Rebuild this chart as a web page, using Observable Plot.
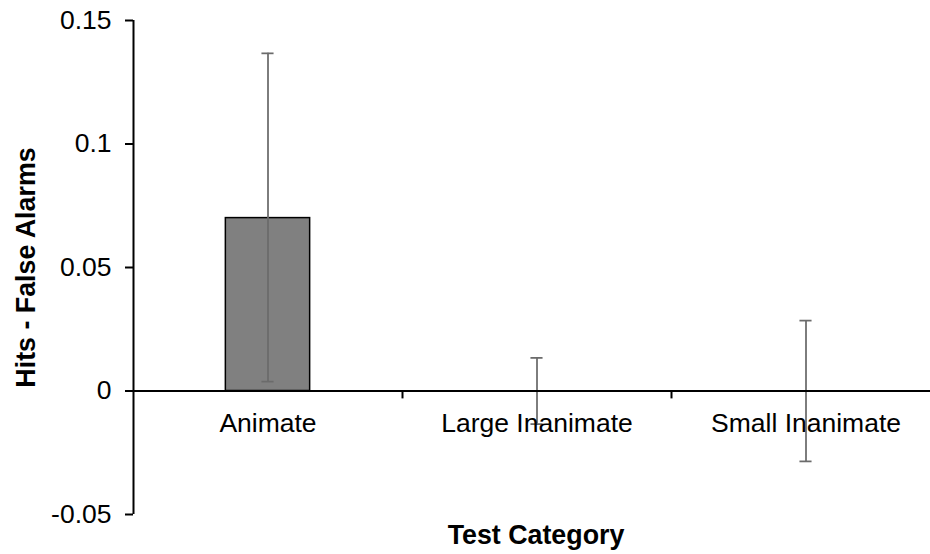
<!DOCTYPE html>
<html>
<head>
<meta charset="utf-8">
<script src="https://cdn.jsdelivr.net/npm/d3@7"></script>
<script src="https://cdn.jsdelivr.net/npm/@observablehq/plot@0.6"></script>
<style>
  html, body { margin: 0; padding: 0; background: #fff; overflow: hidden; }
  #chart svg { overflow: hidden; display: block; }
</style>
</head>
<body>
<div id="chart"></div>
<script>
const categories = ["Animate", "Large Inanimate", "Small Inanimate"];
const means = [0.07, 0, 0];
const lower = [0.0038, -0.0134, -0.0285];
const upper = [0.1367, 0.0134, 0.0285];
const yTicks = [-0.05, 0, 0.05, 0.1, 0.15];
const yTitle = "Hits - False Alarms";
const xTitle = "Test Category";

const data = categories.map((c, i) => ({c, i, mean: means[i], lo: lower[i], hi: upper[i]}));
const boundaries = categories.map((c, i) => i + 1);

const FONT = "'Liberation Sans', Arial, Helvetica, sans-serif";
const barHalf = 0.1567;
const capHalf = 0.0225;

const chart = Plot.plot({
  width: 930,
  height: 554,
  marginLeft: 133,
  marginRight: -10,
  marginTop: 20,
  marginBottom: 40,
  style: {fontFamily: FONT, background: "#fff", overflow: "hidden"},
  x: {type: "linear", domain: [0, 3], axis: null},
  y: {domain: [-0.05, 0.15], axis: null},
  marks: [
    Plot.rectY(data.filter(d => d.mean !== 0), {
      x1: d => d.i + 0.5 - barHalf,
      x2: d => d.i + 0.5 + barHalf,
      y1: 0, y2: "mean",
      fill: "#808080", stroke: "#000", strokeWidth: 1.5
    }),
    Plot.ruleX(data, {x: d => d.i + 0.5, y1: "lo", y2: "hi", stroke: "#6b6b6b", strokeWidth: 1.75}),
    Plot.ruleY(data, {y: "hi", x1: d => d.i + 0.5 - capHalf, x2: d => d.i + 0.5 + capHalf, stroke: "#6b6b6b", strokeWidth: 1.75}),
    Plot.ruleY(data, {y: "lo", x1: d => d.i + 0.5 - capHalf, x2: d => d.i + 0.5 + capHalf, stroke: "#6b6b6b", strokeWidth: 1.75}),
    Plot.ruleY([0], {stroke: "#000", strokeWidth: 2}),
    Plot.ruleX(boundaries, {y1: 0, y2: -0.0032, stroke: "#000", strokeWidth: 2}),
    Plot.ruleX([0], {y1: -0.05, y2: 0.15, stroke: "#000", strokeWidth: 2}),
    Plot.axisY({
      ticks: yTicks, tickSize: 8, tickPadding: 14, fontSize: 26.5,
      tickFormat: d => String(d), strokeWidth: 2, stroke: "#000", fill: "#000", label: null
    }),
    Plot.text(data, {x: d => d.i + 0.5, y: 0, text: "c", dy: 32.5, fontSize: 26.5, lineAnchor: "middle", fill: "#000"}),
    Plot.text([yTitle], {frameAnchor: "left", text: d => d, rotate: -90, dx: -107, fontSize: 26.8, fontWeight: "bold", textAnchor: "middle", lineAnchor: "middle", fill: "#000"}),
    Plot.text([xTitle], {frameAnchor: "bottom", text: d => d, dx: -1, dy: 20.5, fontSize: 26.8, fontWeight: "bold", textAnchor: "middle", lineAnchor: "middle", fill: "#000"})
  ]
});
document.getElementById("chart").append(chart);
</script>
</body>
</html>
